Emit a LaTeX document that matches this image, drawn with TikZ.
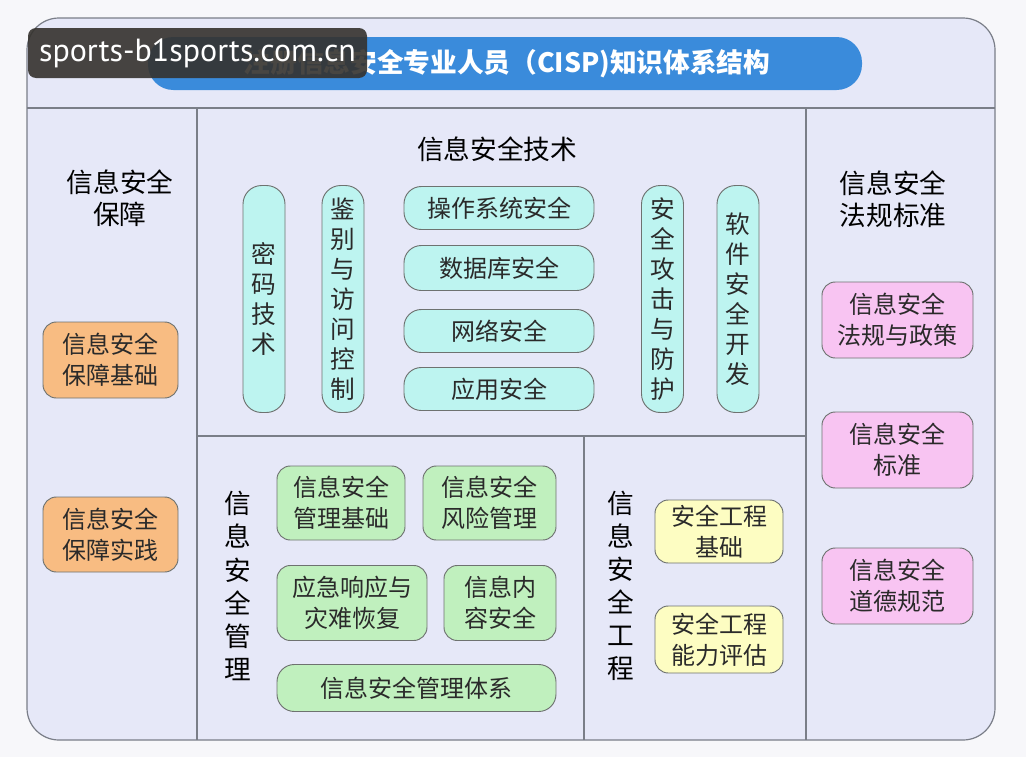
\documentclass[tikz,border=0pt]{standalone}
\usepackage{fontspec}
\newfontfamily\cjk{Noto Sans CJK SC}
\newfontfamily\wmfont{PT Sans}
\definecolor{pagebg}{HTML}{F7F7FA}
\definecolor{framebg}{HTML}{E6E8F8}
\definecolor{linegray}{HTML}{7A7E88}
\definecolor{boxborder}{HTML}{6E7270}
\definecolor{textdark}{HTML}{2A2A2A}
\definecolor{cyanfill}{HTML}{BDF4F0}
\definecolor{greenfill}{HTML}{C0F0BE}
\definecolor{orangefill}{HTML}{F8BC82}
\definecolor{pinkfill}{HTML}{F8C4F2}
\definecolor{yellowfill}{HTML}{FDFDC2}
\definecolor{titleblue}{HTML}{3A8BDB}
\definecolor{wmgray}{HTML}{35322E}
\begin{document}
\begin{tikzpicture}[x=0.75pt,y=-0.75pt,
  sz/.style 2 args={minimum width=#1*0.75pt, minimum height=#2*0.75pt},
  frameline/.style={draw=linegray, line width=0.9pt},
  item/.style={draw=boxborder, line width=0.7pt, rounded corners=10pt, align=center,
    inner sep=0pt, text=textdark, font=\cjk\fontsize{18}{23}\selectfont},
  pill/.style={item, rounded corners=14pt, font=\cjk\fontsize{18.5}{22.5}\selectfont},
  heading/.style={align=center, text=black, font=\cjk\fontsize{20}{24}\selectfont},
  vhead/.style={align=center, text=black, font=\cjk\fontsize{20}{24.8}\selectfont}
]
\useasboundingbox[fill=pagebg] (0,0) rectangle (1026,757);
% main frame
\draw[frameline, fill=framebg, rounded corners=24pt] (27,18) rectangle (995,740);
\draw[frameline] (27,108) -- (995,108);
\draw[frameline] (197,108) -- (197,740);
\draw[frameline] (806,108) -- (806,740);
\draw[frameline] (197,436) -- (806,436);
\draw[frameline] (584,436) -- (584,740);
% title bar
\node[fill=titleblue, rounded corners=19pt, sz={714}{53}, inner sep=0pt] (titlebar) at (505,63.5) {};
\node[text=white, font=\cjk\bfseries\fontsize{20}{24}\selectfont] (title) at (507,63.5) {注册信息安全专业人员（CISP)知识体系结构};
% watermark
\node[fill=wmgray, fill opacity=0.9, text opacity=1, rounded corners=6pt, sz={339}{50}, inner sep=0pt,
  text=white, font=\wmfont\fontsize{24}{26}\selectfont] (wm) at (197.5,53) {sports-b1sports.com.cn};
% left column
\node[heading] (lh) at (120,198) {信息安全\\保障};
\node[item, fill=orangefill, sz={135}{76}] (o1) at (110.5,360) {信息安全\\保障基础};
\node[item, fill=orangefill, sz={135}{75}] (o2) at (110.5,534.5) {信息安全\\保障实践};
% technology
\node[heading] (th) at (497,149) {信息安全技术};
\node[pill, fill=cyanfill, sz={42}{227}] (p1) at (264,299) {密\\码\\技\\术};
\node[pill, fill=cyanfill, sz={42}{227}] (p2) at (343,299) {鉴\\别\\与\\访\\问\\控\\制};
\node[pill, fill=cyanfill, sz={42}{227}] (p3) at (662.5,299) {安\\全\\攻\\击\\与\\防\\护};
\node[pill, fill=cyanfill, sz={42}{227}] (p4) at (738,299) {软\\件\\安\\全\\开\\发};
\node[item, fill=cyanfill, sz={190}{43}, rounded corners=13pt] (t1) at (499,208) {操作系统安全};
\node[item, fill=cyanfill, sz={190}{45}, rounded corners=13pt] (t2) at (499,268) {数据库安全};
\node[item, fill=cyanfill, sz={190}{43}, rounded corners=13pt] (t3) at (499,331) {网络安全};
\node[item, fill=cyanfill, sz={190}{43}, rounded corners=13pt] (t4) at (499,389) {应用安全};
% right column
\node[heading] (rh) at (893,199) {信息安全\\法规标准};
\node[item, fill=pinkfill, sz={151}{76}] (k1) at (897.5,320) {信息安全\\法规与政策};
\node[item, fill=pinkfill, sz={151}{76}] (k2) at (897.5,450) {信息安全\\标准};
\node[item, fill=pinkfill, sz={151}{76}] (k3) at (897.5,586) {信息安全\\道德规范};
% management
\node[vhead] (mh) at (238,586) {信\\息\\安\\全\\管\\理};
\node[item, fill=greenfill, sz={128}{74}] (g1) at (341,503) {信息安全\\管理基础};
\node[item, fill=greenfill, sz={133}{74}] (g2) at (489.5,503) {信息安全\\风险管理};
\node[item, fill=greenfill, sz={150}{75}] (g3) at (352,603) {应急响应与\\灾难恢复};
\node[item, fill=greenfill, sz={112}{75}] (g4) at (500,603) {信息内\\容安全};
\node[item, fill=greenfill, sz={279}{47}, rounded corners=13pt] (g5) at (416.5,688) {信息安全管理体系};
% engineering
\node[vhead] (eh) at (621,586) {信\\息\\安\\全\\工\\程};
\node[item, fill=yellowfill, sz={128}{63}] (y1) at (719,531.5) {安全工程\\基础};
\node[item, fill=yellowfill, sz={128}{67}] (y2) at (719,639.5) {安全工程\\能力评估};
\end{tikzpicture}
\end{document}
